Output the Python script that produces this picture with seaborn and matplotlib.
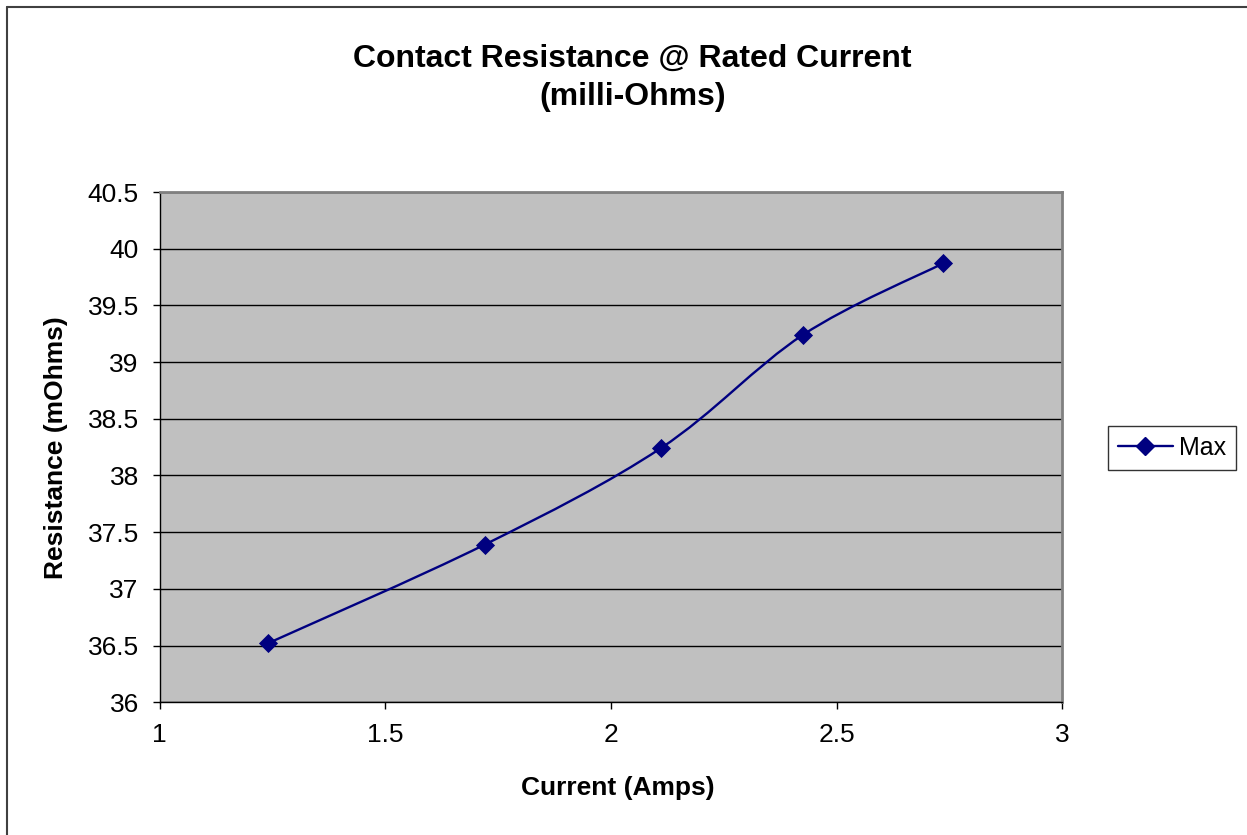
import numpy as np
import pandas as pd
import seaborn as sns
import matplotlib.pyplot as plt
from matplotlib.path import Path
from matplotlib.patches import PathPatch
from matplotlib.lines import Line2D

# data ----------------------------------------
current = [1.24, 1.72, 2.11, 2.425, 2.735]
resistance = [36.52, 37.39, 38.24, 39.24, 39.87]
series_name = "Max"
y_ticks = [36, 36.5, 37, 37.5, 38, 38.5, 39, 39.5, 40, 40.5]
x_ticks = [1, 1.5, 2, 2.5, 3]

navy = "#000080"

sns.set_style("white")
plt.rcParams['font.family'] = ['Liberation Sans', 'DejaVu Sans']
plt.rcParams['text.color'] = 'black'
plt.rcParams['axes.labelcolor'] = 'black'
plt.rcParams['xtick.color'] = 'black'
plt.rcParams['ytick.color'] = 'black'

fig = plt.figure(figsize=(12.47, 8.35), dpi=100)
ax = fig.add_axes([0.128, 0.159, 0.724, 0.611])
ax.set_facecolor("#C0C0C0")

df = pd.DataFrame({"x": current, "y": resistance})

# smoothed line like excel (catmull-rom as bezier segments)
pts = df[["x", "y"]].to_numpy()
verts = [tuple(pts[0])]
codes = [Path.MOVETO]
n = len(pts)
for i in range(n - 1):
    p0 = pts[max(i - 1, 0)]
    p1 = pts[i]
    p2 = pts[i + 1]
    p3 = pts[min(i + 2, n - 1)]
    c1 = p1 + (p2 - p0) / 6
    c2 = p2 - (p3 - p1) / 6
    verts += [tuple(c1), tuple(c2), tuple(p2)]
    codes += [Path.CURVE4] * 3
ax.add_patch(PathPatch(Path(verts, codes), facecolor="none", edgecolor=navy, lw=1.7, zorder=3))

sns.scatterplot(data=df, x="x", y="y", marker="D", s=95, color=navy,
                edgecolor=navy, linewidth=0, zorder=4, ax=ax, legend=False)

ax.set_xlim(1, 3)
ax.set_ylim(36, 40.5)
ax.set_xticks(x_ticks)
ax.set_xticklabels([f"{t:g}" for t in x_ticks])
ax.set_yticks(y_ticks)
ax.set_yticklabels([f"{t:g}" for t in y_ticks])
ax.yaxis.grid(True, color="black", lw=1)
ax.xaxis.grid(False)
ax.set_axisbelow(True)
ax.tick_params(axis="both", direction="out", length=5, width=1, color="black",
               labelsize=19, pad=10, bottom=True, left=True)

for s in ["left", "bottom"]:
    ax.spines[s].set_color("black")
    ax.spines[s].set_linewidth(1)
for s in ["top", "right"]:
    ax.spines[s].set_color("#808080")
    ax.spines[s].set_linewidth(2)

ax.set_xlabel("Current (Amps)", fontsize=19, fontweight="bold")
ax.set_ylabel("Resistance (mOhms)", fontsize=19, fontweight="bold", labelpad=14)
ax.xaxis.set_label_coords(0.508, -0.145)

fig.suptitle("Contact Resistance @ Rated Current\n(milli-Ohms)", x=0.507, y=0.947,
             fontsize=23, fontweight="bold", linespacing=1.35)

handle = Line2D([], [], color=navy, lw=1.7, marker="D", markersize=9.5)
leg = fig.legend([handle], [series_name], loc="center left",
                 bbox_to_anchor=(0.8885, 0.464), fontsize=18, frameon=True,
                 fancybox=False, handlelength=2.2, handletextpad=0.25,
                 borderpad=0.4, borderaxespad=0)
leg.get_frame().set_edgecolor("black")
leg.get_frame().set_linewidth(1)

# chart border (only top and left are inside the picture)
fig.add_artist(Line2D([0.006, 1.0], [0.9916, 0.9916], transform=fig.transFigure,
                      color="#404040", lw=1.5))
fig.add_artist(Line2D([0.006, 0.006], [0.0, 0.9916], transform=fig.transFigure,
                      color="#404040", lw=1.5))

fig.savefig("out.png", dpi=100)
